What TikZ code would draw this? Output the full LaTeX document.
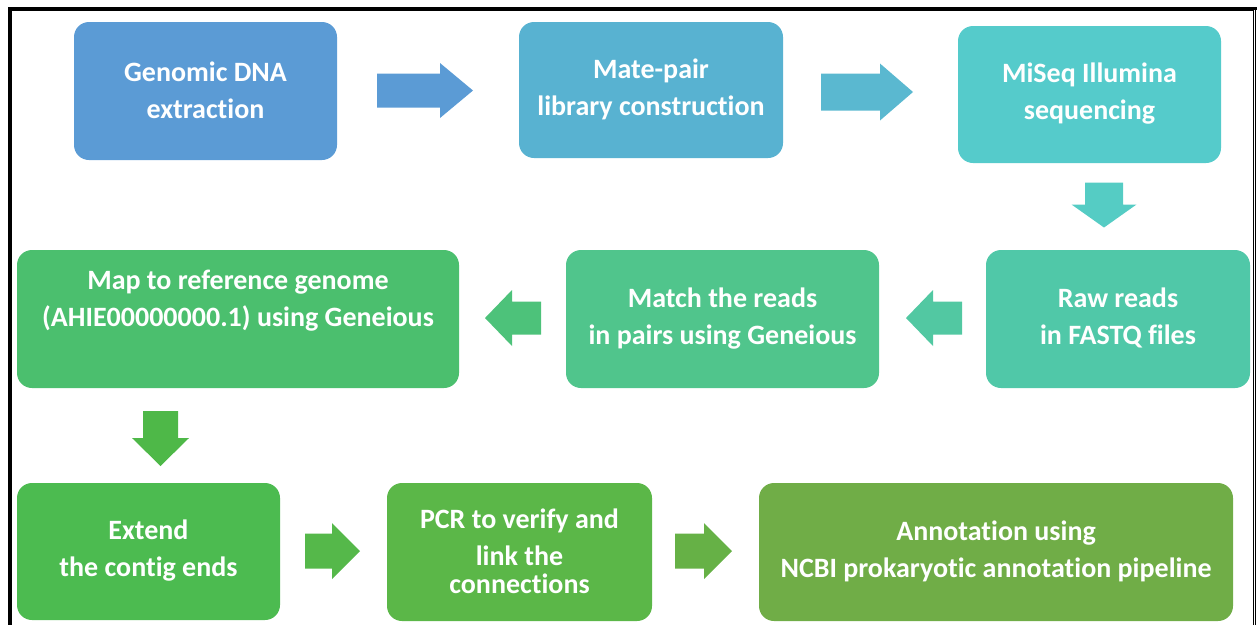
\documentclass[tikz,border=0pt]{standalone}
\usepackage{fontspec}
\setmainfont{Carlito}[Ligatures=NoCommon]
\usetikzlibrary{fit}
\definecolor{cA}{HTML}{5B9BD5}
\definecolor{cB}{HTML}{58B2D1}
\definecolor{cBa}{HTML}{5AB8D0}
\definecolor{cC}{HTML}{55CBCB}
\definecolor{cCa}{HTML}{55CCC4}
\definecolor{cD}{HTML}{50C8A8}
\definecolor{cDa}{HTML}{52C8A2}
\definecolor{cE}{HTML}{50C58C}
\definecolor{cEa}{HTML}{4DC27A}
\definecolor{cF}{HTML}{4BBF6E}
\definecolor{cFa}{HTML}{4EB848}
\definecolor{cG}{HTML}{4CBB50}
\definecolor{cGa}{HTML}{55B84A}
\definecolor{cH}{HTML}{5BB748}
\definecolor{cHa}{HTML}{66B146}
\definecolor{cI}{HTML}{70AD47}
\tikzset{
  ba len/.store in=\balen, ba hl/.store in=\bahl,
  ba hw/.store in=\bahw, ba bw/.store in=\babw,
  ba len=56, ba hl=27, ba hw=56, ba bw=34,
  blockarrow/.pic={
    \fill (-\balen/2,-\babw/2) -- (\balen/2-\bahl,-\babw/2) -- (\balen/2-\bahl,-\bahw/2)
      -- (\balen/2,0) -- (\balen/2-\bahl,\bahw/2) -- (\balen/2-\bahl,\babw/2)
      -- (-\balen/2,\babw/2) -- cycle;
  },
  stepbox/.style={rounded corners=9pt, inner sep=0pt},
  steptext/.style={inner sep=0pt, text=white, align=center, yshift=0.5pt,
    font=\bfseries\fontsize{16.8}{22.2}\selectfont},
}
\begin{document}
\begin{tikzpicture}[x=0.6pt,y=-0.6pt]
\useasboundingbox (0,0) rectangle (1257,624);
% frame
\draw[line width=1.7pt] (9.5,640) -- (9.5,8.5) -- (1257,8.5);
\draw[line width=0.6pt] (11.5,640) -- (11.5,10.5) -- (1253,10.5) -- (1253,640);
\draw[line width=0.9pt] (1255.5,8) -- (1255.5,640);
% boxes
\node[stepbox, fill=cA, fit={(74,22) (337,160)}, label={[steptext]center:{Genomic DNA\\extraction}}] (b1) {};
\node[stepbox, fill=cB, fit={(519,22) (783,158)}, label={[steptext]center:{Mate-pair\\library construction}}] (b2) {};
\node[stepbox, fill=cC, fit={(958,26) (1221,163)}, label={[steptext]center:{MiSeq Illumina\\sequencing}}] (b3) {};
\node[stepbox, fill=cD, fit={(986,250) (1250,388)}, label={[steptext]center:{Raw reads\\in FASTQ files}}] (b4) {};
\node[stepbox, fill=cE, fit={(566,250) (879,388)}, label={[steptext]center:{Match the reads\\in pairs using Geneious}}] (b5) {};
\node[stepbox, fill=cF, fit={(17,250) (459,388)}, label={[steptext, yshift=10.6pt]center:{Map to reference genome\\(AHIE00000000.1) using Geneious}}] (b6) {};
\node[stepbox, fill=cG, fit={(17,483) (280,620)}, label={[steptext]center:{Extend\\the contig ends}}] (b7) {};
\node[stepbox, fill=cH, fit={(387,483) (652,621)}, label={[steptext]center:{PCR to verify and\\link the\\[-5.5pt]connections}}] (b8) {};
\node[stepbox, fill=cI, fit={(759,483) (1233,621)}, label={[steptext]center:{Annotation using\\NCBI prokaryotic annotation pipeline}}] (b9) {};
% block arrows
\coordinate (a1) at (425,90.5);
\coordinate (a2) at (867,92);
\coordinate (a3) at (1104,205);
\coordinate (a4) at (934,318);
\coordinate (a5) at (513,318);
\coordinate (a6) at (160.5,438.5);
\coordinate (a7) at (332.5,551);
\coordinate (a8) at (703.5,551);
\pic[fill=cA, ba len=96, ba hl=33, ba hw=55, ba bw=34] at (a1) {blockarrow};
\pic[fill=cBa, ba len=92, ba hl=33, ba hw=57, ba bw=37] at (a2) {blockarrow};
\pic[fill=cCa, rotate=-90, ba len=45, ba hl=23, ba hw=65, ba bw=38] at (a3) {blockarrow};
\pic[fill=cDa, rotate=180, ba len=56, ba hl=27, ba hw=56, ba bw=33] at (a4) {blockarrow};
\pic[fill=cEa, rotate=180, ba len=56, ba hl=27, ba hw=56, ba bw=33] at (a5) {blockarrow};
\pic[fill=cFa, rotate=-90, ba len=55, ba hl=28, ba hw=57, ba bw=35] at (a6) {blockarrow};
\pic[fill=cGa, ba len=55, ba hl=28, ba hw=56, ba bw=35] at (a7) {blockarrow};
\pic[fill=cHa, ba len=57, ba hl=28, ba hw=56, ba bw=35] at (a8) {blockarrow};
\end{tikzpicture}
\end{document}
